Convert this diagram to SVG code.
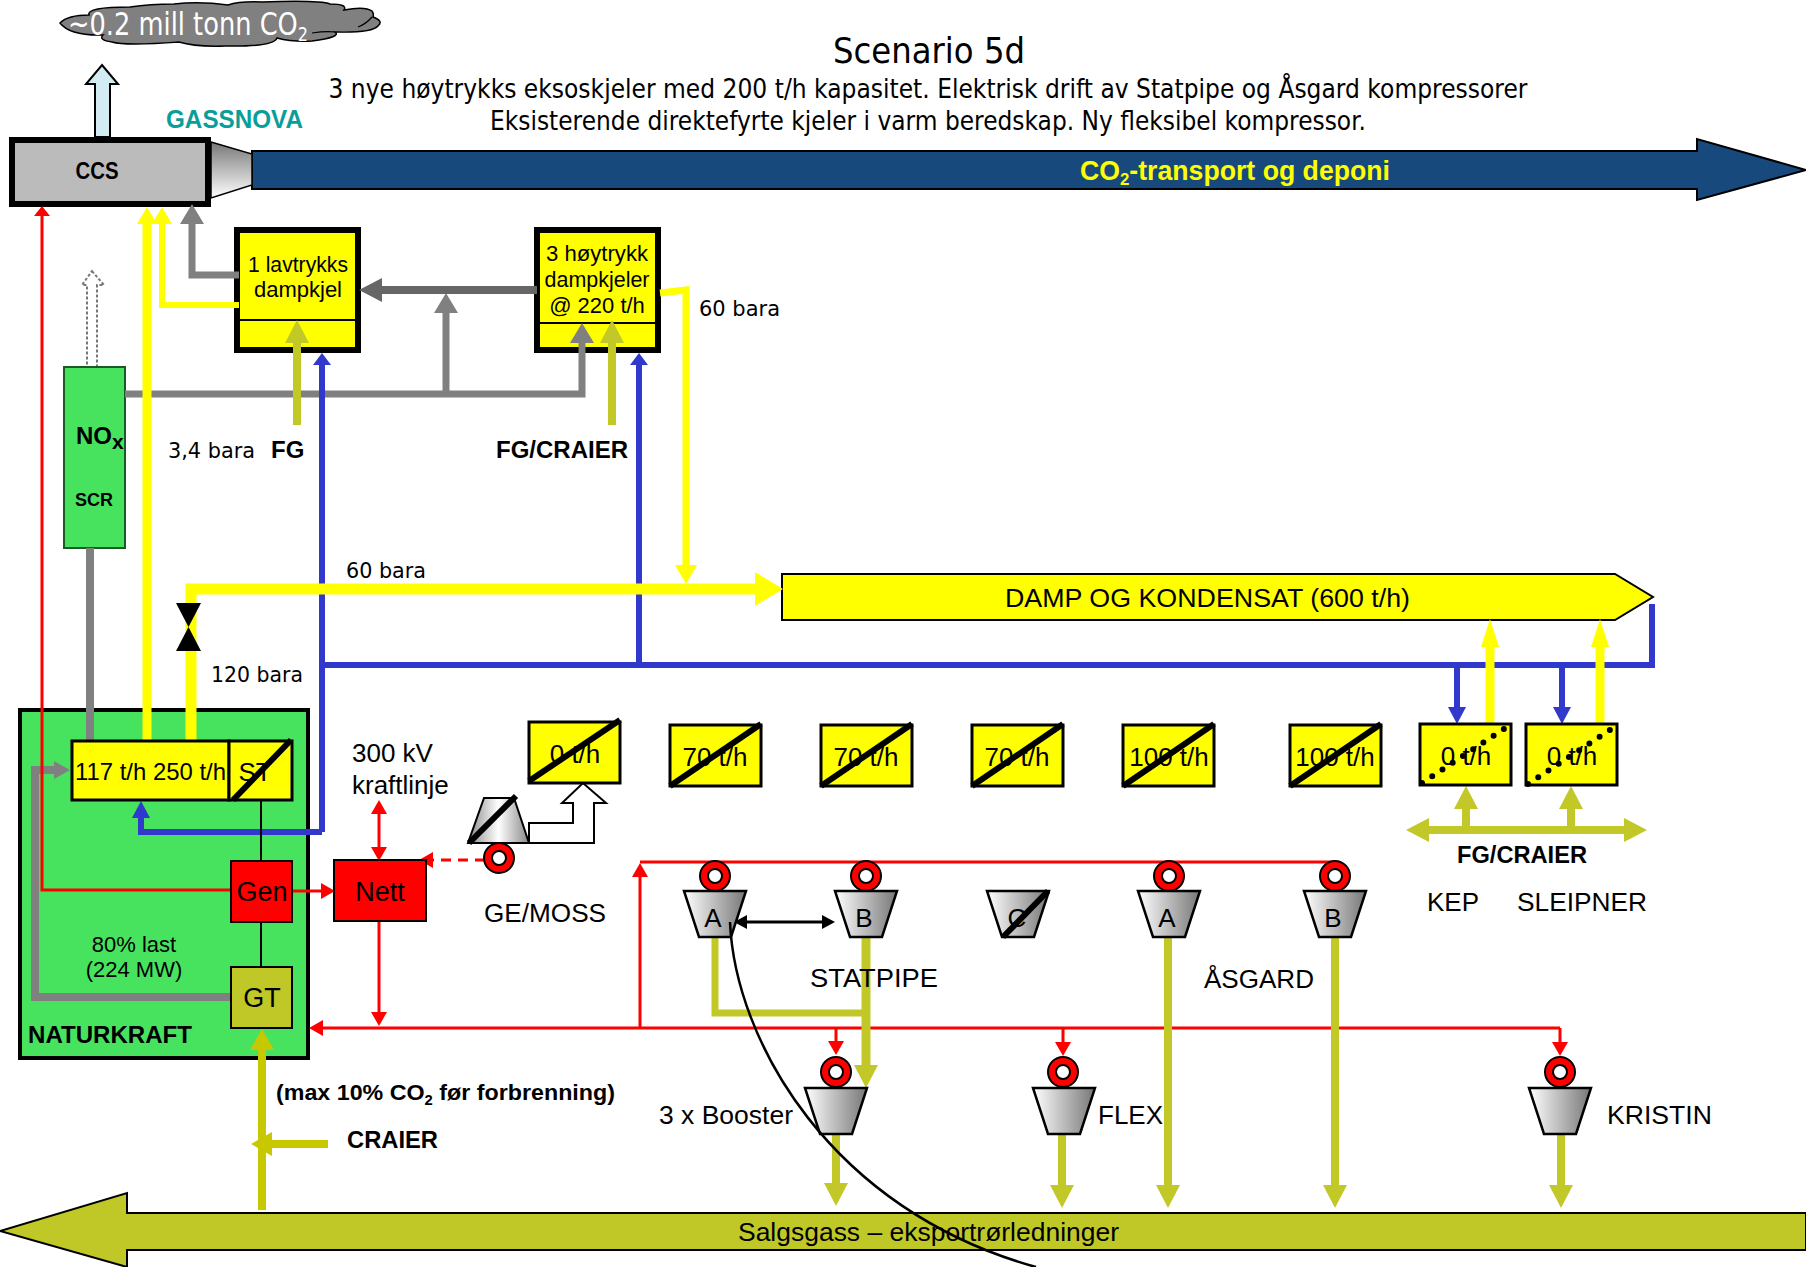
<svg xmlns="http://www.w3.org/2000/svg" width="1806" height="1267" viewBox="0 0 1806 1267">
<style>
text{font-family:"Liberation Sans",Arial,sans-serif;font-size:26px;fill:#000}
.c{text-anchor:middle}
.d{font-family:"DejaVu Sans",Verdana,sans-serif}
.b{font-weight:bold}
.box{fill:#FF0;stroke:#000;stroke-width:3}
.boiler{fill:#FF0;stroke:#000;stroke-width:6}
.sl{stroke:#000;stroke-width:6;fill:none}
.dot{stroke:#000;stroke-width:6;stroke-linecap:round;stroke-dasharray:0 12.25;fill:none}
.comp{fill:url(#gc);stroke:#000;stroke-width:2.5}
.ring{fill:#F00;stroke:#000;stroke-width:2}
.hole{fill:#fff;stroke:#000;stroke-width:2}
#connectors path{fill:none}
.r{stroke:#F00;stroke-width:3}
.y{stroke:#FF0}
.g{stroke:#808080}
.o{stroke:#C2C828}
.bl{stroke:#3039CC;stroke-width:6}
</style>
<defs>
<linearGradient id="gc"><stop offset="0" stop-color="#fff"/><stop offset="1" stop-color="#777"/></linearGradient>
<linearGradient id="gm"><stop offset="0" stop-color="#888"/><stop offset=".5" stop-color="#fff"/><stop offset="1" stop-color="#888"/></linearGradient>
<linearGradient id="gn" x2="0" y2="1"><stop offset="0" stop-color="#777"/><stop offset="1" stop-color="#fff"/></linearGradient>
<polygon id="comp" class="comp" points="-31,0 31,0 16,46 -16,46"/>
<g id="gen"><circle class="ring" r="15"/><circle class="hole" r="7"/></g>
<marker id="mrS" markerUnits="userSpaceOnUse" markerWidth="12" markerHeight="18" refX="0" refY="8" orient="auto"><path d="M0 0L10 8L0 16z" fill="#F00"/></marker>
<marker id="mr" markerUnits="userSpaceOnUse" markerWidth="16" markerHeight="18" refX="0" refY="8" orient="auto-start-reverse"><path d="M0 0L14 8L0 16z" fill="#F00"/></marker>
<marker id="my" markerUnits="userSpaceOnUse" markerWidth="19" markerHeight="22" refX="0" refY="10" orient="auto"><path d="M0 0L17 10L0 20z" fill="#FF0"/></marker>
<marker id="myL" markerUnits="userSpaceOnUse" markerWidth="30" markerHeight="20" refX="0" refY="9" orient="auto"><path d="M0 0L28 9L0 18z" fill="#FF0"/></marker>
<marker id="myM" markerUnits="userSpaceOnUse" markerWidth="30" markerHeight="36" refX="0" refY="17" orient="auto"><path d="M0 0L28 17L0 34z" fill="#FF0"/></marker>
<marker id="myD" markerUnits="userSpaceOnUse" markerWidth="21" markerHeight="24" refX="0" refY="11" orient="auto"><path d="M0 0L19 11L0 22z" fill="#FF0"/></marker>
<marker id="mg" markerUnits="userSpaceOnUse" markerWidth="22" markerHeight="26" refX="0" refY="12" orient="auto"><path d="M0 0L20 12L0 24z" fill="#808080"/></marker>
<marker id="mg2" markerUnits="userSpaceOnUse" markerWidth="18" markerHeight="20" refX="0" refY="9" orient="auto"><path d="M0 0L16 9L0 18z" fill="#808080"/></marker>
<marker id="mdg" markerUnits="userSpaceOnUse" markerWidth="25" markerHeight="26" refX="0" refY="12" orient="auto"><path d="M0 0L23 12L0 24z" fill="#666"/></marker>
<marker id="mo" markerUnits="userSpaceOnUse" markerWidth="25" markerHeight="26" refX="0" refY="12" orient="auto-start-reverse"><path d="M0 0L23 12L0 24z" fill="#C2C828"/></marker>
<marker id="mc" markerUnits="userSpaceOnUse" markerWidth="23" markerHeight="26" refX="0" refY="12" orient="auto"><path d="M0 0L21 12L0 24z" fill="#C8C800"/></marker>
<marker id="mb" markerUnits="userSpaceOnUse" markerWidth="14" markerHeight="20" refX="0" refY="9" orient="auto"><path d="M0 0L12 9L0 18z" fill="#3039CC"/></marker>
<marker id="mbL" markerUnits="userSpaceOnUse" markerWidth="19" markerHeight="20" refX="0" refY="9" orient="auto"><path d="M0 0L17 9L0 18z" fill="#3039CC"/></marker>
<marker id="mk" markerUnits="userSpaceOnUse" markerWidth="15" markerHeight="16" refX="0" refY="7" orient="auto-start-reverse"><path d="M0 0L13 7L0 14z" fill="#000"/></marker>
</defs>

<g id="title">
<text class="c d" x="929" y="63" style="font-size:36px" textLength="192" lengthAdjust="spacingAndGlyphs">Scenario 5d</text>
<text class="c d" x="928" y="98" style="font-size:27px" textLength="1199" lengthAdjust="spacingAndGlyphs">3 nye høytrykks eksoskjeler med 200 t/h kapasitet. Elektrisk drift av Statpipe og Åsgard kompressorer</text>
<text class="c d" x="928" y="130" style="font-size:27px" textLength="876" lengthAdjust="spacingAndGlyphs">Eksisterende direktefyrte kjeler i varm beredskap. Ny fleksibel kompressor.</text>
</g>

<g id="cloud">
<path d="M60 23Q68 15 89 15Q86 7 130 7Q150 4 174 4Q200 1 228 5Q240 1 262 2Q320 0 330 4Q348 4 344 10Q365 6 372 11Q374 14 373 17Q384 21 378 26Q372 33 335 32Q342 37 312 41Q292 42 277 38Q274 47 225 46Q195 47 179 42Q125 46 112 42Q98 40 103 35Q70 36 60 23z" fill="#808080" stroke="#000" stroke-width="1.5"/>
<path d="M312 33Q326 31 335 32M358 27Q366 24 372 17" fill="none" stroke="#000" stroke-width="1.2"/>
<text x="68" y="35" class="d" style="font-size:32px;fill:#fff" textLength="240" lengthAdjust="spacingAndGlyphs">~0.2 mill tonn CO<tspan dy="6" style="font-size:20px;fill:#fff">2</tspan></text>
</g>

<g id="co2-up"><polygon points="102,65 118,84 110,84 110,137 95,137 95,84 86,84" fill="#D3ECF3" stroke="#000" stroke-width="2"/></g>

<g id="co2-transport">
<polygon points="252,151 1697,151 1697,139 1806,170 1697,200 1697,189 252,189" fill="#17497C" stroke="#000" stroke-width="2"/>
<text x="1080" y="180" class="b" style="font-size:27px;fill:#FF0" textLength="310" lengthAdjust="spacingAndGlyphs">CO<tspan dy="5" style="font-size:17px;fill:#FF0">2</tspan><tspan dy="-5" style="fill:#FF0">-transport og deponi</tspan></text>
</g>

<g id="nozzle"><polygon points="211,142 252,154 252,185 211,198" fill="url(#gn)" stroke="#000" stroke-width="1.5"/></g>

<g id="ccs">
<rect x="12" y="140" width="196" height="64" fill="#BBB" stroke="#000" stroke-width="6"/>
<text class="c b" x="97" y="179" style="font-size:23px" textLength="43" lengthAdjust="spacingAndGlyphs">CCS</text>
</g>
<text id="gassnova" x="166" y="128" class="b" style="font-size:25px;fill:#0A9E9A" textLength="137" lengthAdjust="spacingAndGlyphs">GASSNOVA</text>

<g id="boiler-low">
<rect class="boiler" x="237" y="230" width="121" height="120"/>
<path d="M237 320H358" stroke="#000" stroke-width="2"/>
<text class="c" x="298" y="272" style="font-size:22px" textLength="100" lengthAdjust="spacingAndGlyphs">1 lavtrykks</text>
<text class="c" x="298" y="297" style="font-size:22px">dampkjel</text>
</g>
<g id="boiler-high">
<rect class="boiler" x="537" y="230" width="121" height="120"/>
<path d="M537 323H658" stroke="#000" stroke-width="2"/>
<text class="c" x="597" y="261" style="font-size:22px" textLength="102" lengthAdjust="spacingAndGlyphs">3 høytrykk</text>
<text class="c" x="597" y="287" style="font-size:22px" textLength="105" lengthAdjust="spacingAndGlyphs">dampkjeler</text>
<text class="c" x="597" y="313" style="font-size:22px">@ 220 t/h</text>
</g>

<g id="nox-exhaust"><polygon points="92,271 104,285 97,285 97,367 87,367 87,285 82,285" fill="#fff" stroke="#777" stroke-width="2" stroke-dasharray="3 2"/></g>
<g id="nox">
<rect x="64" y="367" width="61" height="181" fill="#47E35F" stroke="#1A5A26" stroke-width="2"/>
<text x="76" y="444" class="b" style="font-size:24px">NO<tspan dy="5" style="font-size:21px">x</tspan></text>
<text x="75" y="506" class="b" style="font-size:18px">SCR</text>
</g>

<g id="damp">
<polygon points="782,574 1615,574 1653,597 1615,620 782,620" fill="#FF0" stroke="#000" stroke-width="2"/>
<text x="1005" y="607" textLength="405" lengthAdjust="spacingAndGlyphs">DAMP OG KONDENSAT (600 t/h)</text>
</g>

<g id="naturkraft">
<rect x="20" y="710" width="288" height="348" fill="#47E35F" stroke="#000" stroke-width="4"/>
<text x="28" y="1043" class="b" style="font-size:24px" textLength="164" lengthAdjust="spacingAndGlyphs">NATURKRAFT</text>
<text class="c" x="134" y="952" style="font-size:22px">80% last</text>
<text class="c" x="134" y="977" style="font-size:22px">(224 MW)</text>
</g>

<g id="connectors">
<path class="g" stroke-width="8" d="M90 548V741"/>
<path class="g" stroke-width="7" d="M125 394H582V343" marker-end="url(#mg)"/>
<path class="g" stroke-width="7" d="M446 394V313" marker-end="url(#mg)"/>
<path class="g" stroke-width="7" d="M239 275H192V224" marker-end="url(#mg)"/>
<path class="g" stroke-width="8" d="M231 997H35V770H54" marker-end="url(#mg2)"/>
<path stroke="#666" stroke-width="8" d="M537 290H382" marker-end="url(#mdg)"/>
<path class="o" stroke-width="8" d="M297 425V343" marker-end="url(#mo)"/>
<path class="o" stroke-width="8" d="M612 425V343" marker-end="url(#mo)"/>
<path class="bl" d="M322 832H141V818" marker-end="url(#mbL)"/>
<path class="bl" d="M322 832V365" marker-end="url(#mb)"/>
<path class="bl" d="M639 665V365" marker-end="url(#mb)"/>
<path class="bl" d="M322 665H1652V604"/>
<path class="bl" d="M1457 665V707" marker-end="url(#mbL)"/>
<path class="bl" d="M1562 665V707" marker-end="url(#mbL)"/>
<path class="y" stroke-width="9" d="M147 740V224" marker-end="url(#my)"/>
<path class="y" stroke-width="6" d="M239 305H162V224" marker-end="url(#my)"/>
<path class="y" stroke-width="7" d="M660 293L686 290V565" marker-end="url(#myD)"/>
<path class="y" stroke-width="11" d="M191 740V589H755" marker-end="url(#myM)"/>
<path class="y" stroke-width="9" d="M1490 725V647" marker-end="url(#myL)"/>
<path class="y" stroke-width="9" d="M1600 725V647" marker-end="url(#myL)"/>
<path stroke="#000" stroke-width="2" d="M261 800V861M261 922V967"/>
<path class="r" d="M231 890H42V216" marker-end="url(#mrS)"/>
<path class="r" d="M292 891H321" marker-end="url(#mr)"/>
<path class="r" d="M379 814V847" marker-start="url(#mr)" marker-end="url(#mr)"/>
<path class="r" d="M379 921V1012" marker-end="url(#mr)"/>
<path class="r" d="M1560 1028H323" marker-end="url(#mr)"/>
<path class="r" d="M640 1028V877" marker-end="url(#mr)"/>
<path class="r" stroke-width="2" d="M640 862H1335"/>
<path class="r" d="M836 1028V1041" marker-end="url(#mr)"/>
<path class="r" d="M1063 1028V1042" marker-end="url(#mr)"/>
<path class="r" d="M1560 1028V1042" marker-end="url(#mr)"/>
<path class="r" stroke-dasharray="10 7" d="M485 860H433" marker-end="url(#mr)"/>
<path class="o" stroke-width="7" d="M715 937V1013H866"/>
<path class="o" stroke-width="9" d="M866 937V1065" marker-end="url(#mo)"/>
<path class="o" stroke-width="8" d="M1168 937V1185" marker-end="url(#mo)"/>
<path class="o" stroke-width="8" d="M1335 937V1185" marker-end="url(#mo)"/>
<path class="o" stroke-width="8" d="M836 1133V1183" marker-end="url(#mo)"/>
<path class="o" stroke-width="8" d="M1062 1133V1185" marker-end="url(#mo)"/>
<path class="o" stroke-width="8" d="M1561 1133V1185" marker-end="url(#mo)"/>
<path class="o" stroke-width="8" d="M1429 830H1624" marker-start="url(#mo)" marker-end="url(#mo)"/>
<path class="o" stroke-width="8" d="M1466 830V809" marker-end="url(#mo)"/>
<path class="o" stroke-width="8" d="M1571 830V809" marker-end="url(#mo)"/>
<path stroke="#C8C800" stroke-width="8" d="M262 1210V1050" marker-end="url(#mc)"/>
<path stroke="#C8C800" stroke-width="8" d="M328 1144H272" marker-end="url(#mc)"/>
<path stroke="#000" stroke-width="3" d="M747 922H822" marker-start="url(#mk)" marker-end="url(#mk)"/>
</g>

<g id="valve"><polygon points="176,603 201,603 176,651 201,651" fill="#000"/></g>

<g id="st-unit">
<rect class="box" x="72" y="741" width="157" height="59"/>
<rect class="box" x="229" y="741" width="63" height="59"/>
<text x="75" y="780" style="font-size:24px" textLength="151" lengthAdjust="spacingAndGlyphs">117 t/h 250 t/h</text>
<text class="c" x="255" y="781">ST</text>
<path class="sl" d="M233 800L291 740"/>
</g>
<g id="gen-unit">
<rect x="231" y="861" width="61" height="61" fill="#F00" stroke="#000" stroke-width="2"/>
<text class="c" x="262" y="901" style="font-size:27px">Gen</text>
</g>
<g id="gt">
<rect x="231" y="967" width="61" height="61" fill="#C0C828" stroke="#000" stroke-width="2"/>
<text class="c" x="262" y="1007" style="font-size:27px">GT</text>
</g>
<g id="nett">
<rect x="334" y="860" width="92" height="61" fill="#F00" stroke="#000" stroke-width="2"/>
<text class="c" x="380" y="901" style="font-size:27px">Nett</text>
</g>
<text id="kraftlinje" x="352" y="762">300 kV<tspan x="352" y="794">kraftlinje</tspan></text>

<g id="ge-moss">
<use href="#gen" x="499" y="858"/>
<polygon points="484,798 514,798 529,843 468,843" fill="url(#gm)" stroke="#000" stroke-width="2"/>
<path class="sl" d="M469 843L516 796"/>
<polygon points="529,843 594,843 594,803 606,803 583,783 562,803 573,803 573,823 529,823" fill="#fff" stroke="#000" stroke-width="2"/>
<text x="484" y="922" textLength="122" lengthAdjust="spacingAndGlyphs">GE/MOSS</text>
</g>

<g id="b0"><rect class="box" x="529" y="722" width="91" height="61"/><text class="c" x="575" y="763">0 t/h</text><path class="sl" d="M529 781L620 720"/></g>
<g id="b1"><rect class="box" x="670" y="725" width="91" height="61"/><text class="c" x="715" y="766">70 t/h</text><path class="sl" d="M670 786L761 724"/></g>
<g id="b2"><rect class="box" x="821" y="725" width="91" height="61"/><text class="c" x="866" y="766">70 t/h</text><path class="sl" d="M821 786L912 724"/></g>
<g id="b3"><rect class="box" x="972" y="725" width="91" height="61"/><text class="c" x="1017" y="766">70 t/h</text><path class="sl" d="M972 786L1063 724"/></g>
<g id="b4"><rect class="box" x="1123" y="725" width="91" height="61"/><text class="c" x="1169" y="766">100 t/h</text><path class="sl" d="M1123 786L1214 724"/></g>
<g id="b5"><rect class="box" x="1290" y="725" width="91" height="61"/><text class="c" x="1335" y="766">100 t/h</text><path class="sl" d="M1290 786L1381 724"/></g>
<g id="kep-box"><rect class="box" x="1420" y="724" width="91" height="61"/><text class="c" x="1466" y="765">0 t/h</text><path class="dot" d="M1422 783L1504 729"/></g>
<g id="sleipner-box"><rect class="box" x="1526" y="724" width="91" height="61"/><text class="c" x="1572" y="765">0 t/h</text><path class="dot" d="M1528 784L1610 730"/></g>

<g id="stat-a"><use href="#gen" x="715" y="876"/><use href="#comp" x="715" y="891"/><text class="c" x="713" y="927">A</text></g>
<g id="stat-b"><use href="#gen" x="866" y="876"/><use href="#comp" x="866" y="891"/><text class="c" x="864" y="927">B</text></g>
<g id="stat-c"><use href="#comp" x="1018" y="891"/><text class="c" x="1017" y="927">C</text><path class="sl" d="M1003 937L1048 891"/></g>
<g id="asg-a"><use href="#gen" x="1169" y="876"/><use href="#comp" x="1169" y="891"/><text class="c" x="1167" y="927">A</text></g>
<g id="asg-b"><use href="#gen" x="1335" y="876"/><use href="#comp" x="1335" y="891"/><text class="c" x="1333" y="927">B</text></g>
<g id="booster"><use href="#gen" x="836" y="1072"/><use href="#comp" x="836" y="1088"/><text x="659" y="1124" textLength="134" lengthAdjust="spacingAndGlyphs">3 x Booster</text></g>
<g id="flex"><use href="#gen" x="1063" y="1072"/><use href="#comp" x="1064" y="1088"/><text x="1098" y="1124">FLEX</text></g>
<g id="kristin"><use href="#gen" x="1560" y="1072"/><use href="#comp" x="1560" y="1088"/><text x="1607" y="1124" textLength="105" lengthAdjust="spacingAndGlyphs">KRISTIN</text></g>

<g id="salgsgass">
<polygon points="0,1231 127,1193 127,1213 1806,1213 1806,1250 127,1250 127,1267 0,1231" fill="#C0C828" stroke="#000" stroke-width="2"/>
<text x="738" y="1241" textLength="381" lengthAdjust="spacingAndGlyphs">Salgsgass – eksportrørledninger</text>
</g>

<g id="labels">
<text x="699" y="316" class="d" style="font-size:22px" textLength="81" lengthAdjust="spacingAndGlyphs">60 bara</text>
<text x="346" y="578" class="d" style="font-size:22px" textLength="80" lengthAdjust="spacingAndGlyphs">60 bara</text>
<text x="211" y="682" class="d" style="font-size:22px" textLength="92" lengthAdjust="spacingAndGlyphs">120 bara</text>
<text x="168" y="458" class="d" style="font-size:22px" textLength="87" lengthAdjust="spacingAndGlyphs">3,4 bara</text>
<text x="271" y="458" class="b" style="font-size:24px">FG</text>
<text x="496" y="458" class="b" style="font-size:24px" textLength="132" lengthAdjust="spacingAndGlyphs">FG/CRAIER</text>
<text x="1457" y="863" class="b" style="font-size:24px" textLength="130" lengthAdjust="spacingAndGlyphs">FG/CRAIER</text>
<text x="1427" y="911" textLength="52" lengthAdjust="spacingAndGlyphs">KEP</text>
<text x="1517" y="911" textLength="130" lengthAdjust="spacingAndGlyphs">SLEIPNER</text>
<text x="810" y="987" textLength="128" lengthAdjust="spacingAndGlyphs">STATPIPE</text>
<text x="1204" y="988" textLength="110" lengthAdjust="spacingAndGlyphs">ÅSGARD</text>
<text x="347" y="1148" class="b" style="font-size:24px" textLength="91" lengthAdjust="spacingAndGlyphs">CRAIER</text>
<text x="276" y="1100" class="b" style="font-size:22px" textLength="339" lengthAdjust="spacingAndGlyphs">(max 10% CO<tspan dy="5" style="font-size:14px">2</tspan><tspan dy="-5"> før forbrenning)</tspan></text>
</g>

<g id="curve"><path d="M730 922C735 1040 830 1210 1036 1267" fill="none" stroke="#000" stroke-width="2.5"/></g>
</svg>
